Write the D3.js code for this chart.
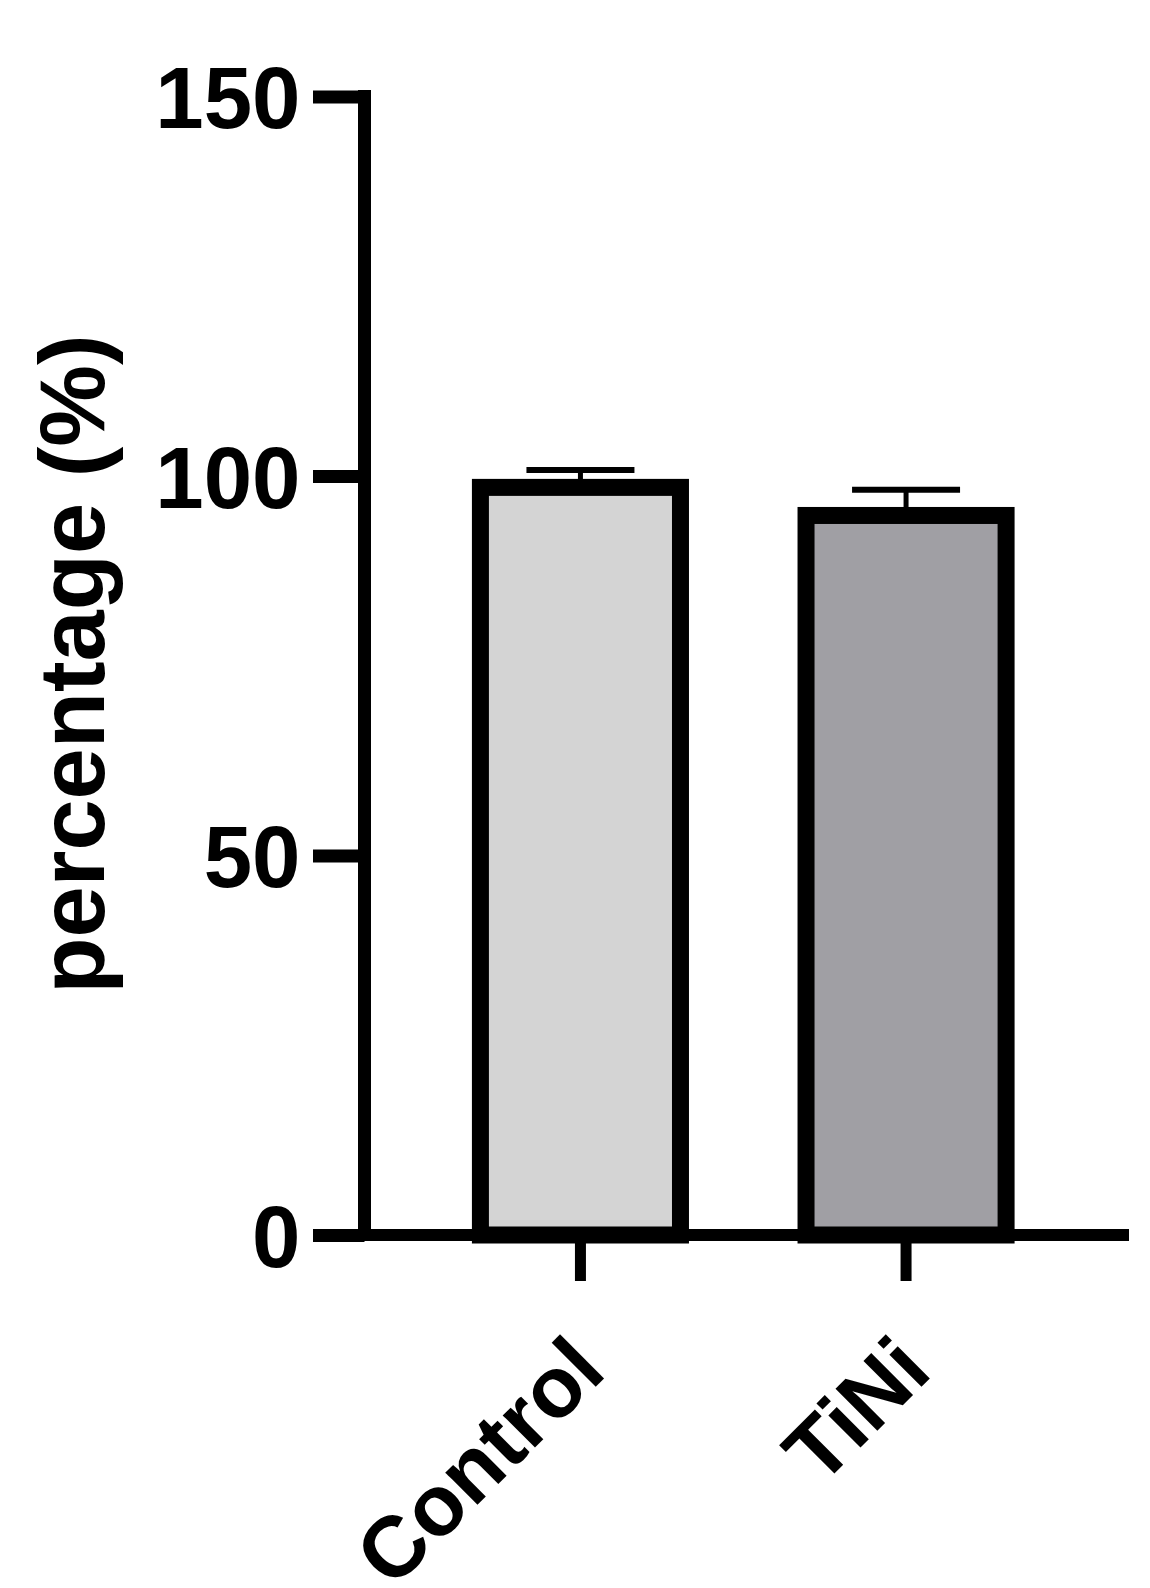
<!DOCTYPE html>
<html>
<head>
<meta charset="utf-8">
<script src="https://cdn.jsdelivr.net/npm/d3@7"></script>
<style>
  html, body { margin: 0; padding: 0; background: #fff; }
  svg { display: block; }
  text { font-family: "Liberation Sans", Arial, Helvetica, sans-serif; font-weight: bold; fill: #000; }
</style>
</head>
<body>
<svg id="chart" width="1150" height="1588"></svg>
<script>
// ---- data ----
const categories = ["Control", "TiNi"];
const means = [98.5, 94.8];
const errors = [2.3, 3.4];
const fills = ["#d4d4d4", "#a09fa4"];
const yTicks = [0, 50, 100, 150];
const yLabel = "percentage (%)";

// ---- layout ----
const svg = d3.select("#chart");
const axisX = 364.5;
const baseY = 1235;
const topY = 96.5;
const rightX = 1129;

const y = d3.scaleLinear().domain([0, 150]).range([baseY, topY]);
const x = d3.scaleBand().domain(categories).range([axisX, 1122])
  .paddingInner(0.3856).paddingOuter(0.356);

// bars
svg.append("g").selectAll("rect").data(categories).join("rect")
  .attr("x", d => x(d))
  .attr("width", x.bandwidth())
  .attr("y", (d, i) => y(means[i]))
  .attr("height", (d, i) => y(0) - y(means[i]))
  .attr("fill", (d, i) => fills[i])
  .attr("stroke", "#000")
  .attr("stroke-width", 17);

// error bars (upper)
const eb = svg.append("g").attr("stroke", "#000");
categories.forEach((c, i) => {
  const cx = x(c) + x.bandwidth() / 2;
  const yTop = y(means[i] + errors[i]);
  eb.append("line").attr("x1", cx).attr("x2", cx)
    .attr("y1", y(means[i]) - 8).attr("y2", yTop).attr("stroke-width", 5);
  eb.append("line").attr("x1", cx - 54).attr("x2", cx + 54)
    .attr("y1", yTop).attr("y2", yTop).attr("stroke-width", 6);
});

// y axis
const yAxis = d3.axisLeft(y).tickValues(yTicks).tickSize(51.5).tickPadding(12.5).tickSizeOuter(0);
const gy = svg.append("g").attr("transform", `translate(${axisX},0)`).call(yAxis);
gy.select(".domain").remove();
gy.selectAll(".tick line").attr("stroke", "#000").attr("stroke-width", 13);
gy.selectAll(".tick text").attr("font-size", 87).attr("dy", null).attr("y", 31)
  .style("font-family", "'Liberation Sans', Arial, sans-serif").style("font-weight", "bold");
svg.append("line").attr("x1", axisX).attr("x2", axisX)
  .attr("y1", y(150) - 6.5).attr("y2", baseY).attr("stroke", "#000").attr("stroke-width", 13);

// x axis baseline + ticks
svg.append("line").attr("x1", 314).attr("x2", rightX)
  .attr("y1", baseY).attr("y2", baseY).attr("stroke", "#000").attr("stroke-width", 12);
const xAxis = d3.axisBottom(x).tickSize(46).tickSizeOuter(0).tickFormat("");
const gx = svg.append("g").attr("transform", `translate(0,${baseY})`).call(xAxis);
gx.select(".domain").remove();
gx.selectAll(".tick line").attr("stroke", "#000").attr("stroke-width", 11);

// x labels rotated
svg.append("g").selectAll("text").data(categories).join("text")
  .attr("transform", d => `translate(${x(d) + x.bandwidth() / 2 + 28},1374) rotate(-45)`)
  .attr("text-anchor", "end")
  .attr("font-size", 86)
  .text(d => d);

// y label
svg.append("text")
  .attr("transform", `translate(104,664) rotate(-90)`)
  .attr("text-anchor", "middle")
  .attr("font-size", 92)
  .text(yLabel);
</script>
</body>
</html>
